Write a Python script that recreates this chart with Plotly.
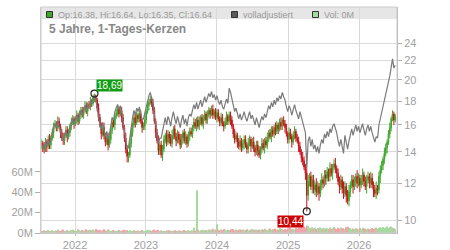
import math
import plotly.graph_objects as go
import pandas as pd

# ---- data (weekly candles) ----
close = [
    14.6, 14.3, 14.2, 14.7, 14.4, 14.9, 14.5, 15.0, 15.4, 15.9,
    16.1, 15.8, 16.3, 15.9, 15.4, 15.0, 14.8, 15.2, 15.6, 15.1,
    15.4, 15.9, 16.2, 16.5, 16.1, 16.4, 16.8, 16.3, 16.9, 17.2,
    16.8, 17.3, 17.6, 17.1, 17.7, 17.5, 18.0, 17.8, 18.3, 18.5,
    18.1, 17.4, 16.6, 16.0, 15.3, 15.8, 15.2, 14.7, 15.1, 14.5,
    14.9, 15.6, 16.2, 16.0, 16.7, 17.0, 17.3, 16.9, 17.2, 16.6,
    15.8, 15.0, 14.2, 13.7, 13.8, 14.6, 15.4, 16.0, 16.6, 16.2,
    16.8, 16.5, 16.9, 16.3, 15.8, 15.9, 16.4, 17.1, 17.6, 17.9,
    18.2, 17.8, 17.2, 16.3, 15.4, 14.8, 14.1, 14.5, 13.8, 14.2,
    14.9, 15.2, 14.7, 15.3, 15.0, 14.6, 15.2, 15.7, 15.1, 14.8,
    15.3, 14.9, 14.5, 15.0, 15.4, 14.8, 15.1, 14.6, 15.2, 15.5,
    15.3, 15.8, 16.2, 15.9, 16.4, 15.9, 16.3, 16.6, 16.1, 16.5,
    16.9, 16.4, 16.8, 17.2, 16.9, 17.3, 16.8, 17.1, 16.6, 17.0,
    16.5, 16.2, 16.6, 16.1, 15.9, 16.3, 16.7, 16.3, 16.8, 16.4,
    15.9, 15.3, 14.9, 15.2, 14.7, 14.4, 14.8, 14.3, 14.6, 14.9,
    14.5, 14.2, 14.6, 14.9, 14.4, 14.7, 14.3, 14.0, 14.5, 14.1,
    13.8, 14.2, 14.6, 14.3, 14.8, 14.5, 15.0, 15.4, 15.1, 15.6,
    15.3, 15.8, 15.5, 16.0, 15.7, 16.2, 15.9, 16.4, 16.1, 15.8,
    15.3, 14.9, 15.4, 15.1, 14.7, 15.2, 15.5, 15.0, 14.8, 14.4,
    14.0, 13.6, 13.4, 13.0, 12.6, 11.3, 12.1, 12.4, 11.8, 12.2,
    11.6, 11.9, 11.5, 11.8, 11.4, 11.9, 12.2, 12.0, 12.5, 12.3,
    12.7, 12.4, 12.9, 12.6, 13.0, 13.2, 12.9, 12.6, 12.1, 11.8,
    12.2, 11.7, 11.4, 11.8, 11.3, 11.0, 11.5, 11.9, 12.2, 11.8,
    12.1, 12.4, 12.0, 12.3, 11.9, 12.2, 12.5, 12.1, 11.8, 12.2,
    12.4, 12.0, 12.3, 11.9, 11.6, 11.4, 11.7, 11.6, 12.4, 12.8,
    13.1, 13.5, 13.9, 14.3, 14.7, 15.3, 15.8, 16.5, 16.9, 16.4,
    16.64,
]

open_ = [
    14.4, 14.6, 14.3, 14.2, 14.7, 14.4, 14.9, 14.5, 15.0, 15.4,
    15.9, 16.1, 15.8, 16.3, 15.9, 15.4, 15.0, 14.8, 15.2, 15.6,
    15.1, 15.4, 15.9, 16.2, 16.5, 16.1, 16.4, 16.8, 16.3, 16.9,
    17.2, 16.8, 17.3, 17.6, 17.1, 17.7, 17.5, 18.0, 17.8, 18.3,
    18.5, 18.1, 17.4, 16.6, 16.0, 15.3, 15.8, 15.2, 14.7, 15.1,
    14.5, 14.9, 15.6, 16.2, 16.0, 16.7, 17.0, 17.3, 16.9, 17.2,
    16.6, 15.8, 15.0, 14.2, 13.7, 13.8, 14.6, 15.4, 16.0, 16.6,
    16.2, 16.8, 16.5, 16.9, 16.3, 15.8, 15.9, 16.4, 17.1, 17.6,
    17.9, 18.2, 17.8, 17.2, 16.3, 15.4, 14.8, 14.1, 14.5, 13.8,
    14.2, 14.9, 15.2, 14.7, 15.3, 15.0, 14.6, 15.2, 15.7, 15.1,
    14.8, 15.3, 14.9, 14.5, 15.0, 15.4, 14.8, 15.1, 14.6, 15.2,
    15.5, 15.3, 15.8, 16.2, 15.9, 16.4, 15.9, 16.3, 16.6, 16.1,
    16.5, 16.9, 16.4, 16.8, 17.2, 16.9, 17.3, 16.8, 17.1, 16.6,
    17.0, 16.5, 16.2, 16.6, 16.1, 15.9, 16.3, 16.7, 16.3, 16.8,
    16.4, 15.9, 15.3, 14.9, 15.2, 14.7, 14.4, 14.8, 14.3, 14.6,
    14.9, 14.5, 14.2, 14.6, 14.9, 14.4, 14.7, 14.3, 14.0, 14.5,
    14.1, 13.8, 14.2, 14.6, 14.3, 14.8, 14.5, 15.0, 15.4, 15.1,
    15.6, 15.3, 15.8, 15.5, 16.0, 15.7, 16.2, 15.9, 16.4, 16.1,
    15.8, 15.3, 14.9, 15.4, 15.1, 14.7, 15.2, 15.5, 15.0, 14.8,
    14.4, 14.0, 13.6, 13.4, 13.0, 12.6, 11.3, 12.1, 12.4, 11.8,
    12.2, 11.6, 11.9, 11.5, 11.8, 11.4, 11.9, 12.2, 12.0, 12.5,
    12.3, 12.7, 12.4, 12.9, 12.6, 13.0, 13.2, 12.9, 12.6, 12.1,
    11.8, 12.2, 11.7, 11.4, 11.8, 11.3, 11.0, 11.5, 11.9, 12.2,
    11.8, 12.1, 12.4, 12.0, 12.3, 11.9, 12.2, 12.5, 12.1, 11.8,
    12.2, 12.4, 12.0, 12.3, 11.9, 11.6, 11.4, 11.7, 11.6, 12.4,
    12.8, 13.1, 13.5, 13.9, 14.3, 14.7, 15.3, 15.8, 16.5, 16.9,
    16.38,
]

high = [
    14.9, 14.8, 14.7, 15.0, 14.9, 15.2, 15.3, 15.2, 15.7, 16.2,
    16.4, 16.3, 16.7, 16.6, 16.1, 15.7, 15.4, 15.4, 15.9, 15.9,
    15.7, 16.1, 16.6, 16.8, 16.7, 16.7, 17.2, 17.0, 17.2, 17.5,
    17.5, 17.5, 18.0, 17.9, 17.9, 18.0, 18.4, 18.2, 18.6, 18.69,
    18.6, 18.3, 17.8, 16.9, 16.2, 16.1, 16.2, 15.4, 15.4, 15.4,
    15.2, 15.8, 16.6, 16.5, 16.9, 17.3, 17.7, 17.5, 17.5, 17.5,
    16.9, 16.0, 15.4, 14.5, 14.0, 14.9, 15.8, 16.2, 16.9, 16.9,
    17.1, 17.0, 17.3, 17.2, 16.5, 16.2, 16.8, 17.3, 17.9, 18.2,
    18.5, 18.4, 18.2, 17.5, 16.5, 15.7, 15.2, 14.7, 14.8, 14.5,
    15.2, 15.4, 15.6, 15.6, 15.5, 15.3, 15.6, 15.9, 16.0, 15.4,
    15.6, 15.5, 15.3, 15.3, 15.6, 15.7, 15.5, 15.3, 15.5, 15.8,
    15.8, 16.0, 16.6, 16.5, 16.6, 16.7, 16.7, 16.8, 16.9, 16.8,
    17.2, 17.1, 17.2, 17.5, 17.4, 17.6, 17.7, 17.3, 17.4, 17.3,
    17.3, 16.7, 17.0, 16.9, 16.3, 16.6, 17.1, 16.9, 17.1, 17.1,
    16.7, 16.1, 15.7, 15.5, 15.4, 15.0, 15.2, 15.0, 14.9, 15.2,
    15.2, 14.7, 15.0, 15.2, 15.1, 15.0, 15.1, 14.5, 14.8, 14.8,
    14.4, 14.4, 15.0, 14.9, 15.0, 15.1, 15.4, 15.6, 15.7, 15.9,
    15.9, 16.0, 16.2, 16.3, 16.2, 16.5, 16.6, 16.6, 16.7, 16.4,
    16.1, 15.5, 15.8, 15.7, 15.3, 15.5, 15.9, 15.7, 15.3, 15.1,
    14.7, 14.2, 14.0, 13.7, 13.2, 12.9, 12.5, 12.6, 12.7, 12.5,
    12.5, 12.1, 12.3, 12.1, 12.0, 12.2, 12.6, 12.4, 12.8, 12.8,
    13.0, 12.9, 13.3, 13.2, 13.2, 13.5, 13.6, 13.1, 12.9, 12.4,
    12.5, 12.4, 12.1, 12.1, 12.0, 11.6, 11.9, 12.1, 12.5, 12.5,
    12.4, 12.6, 12.8, 12.6, 12.5, 12.5, 12.9, 12.7, 12.4, 12.5,
    12.7, 12.6, 12.7, 12.6, 12.1, 11.9, 12.1, 11.9, 12.7, 13.1,
    13.4, 13.7, 14.3, 14.6, 14.9, 15.6, 16.2, 16.7, 17.2, 17.1,
    16.9,
]

low = [
    14.2, 14.0, 13.9, 14.0, 14.0, 14.2, 14.2, 14.2, 14.8, 15.0,
    15.7, 15.5, 15.5, 15.7, 15.0, 14.8, 14.5, 14.5, 15.0, 14.7,
    14.9, 15.1, 15.6, 16.0, 15.7, 15.9, 16.1, 16.0, 16.1, 16.5,
    16.6, 16.5, 17.0, 16.9, 16.7, 17.3, 17.2, 17.5, 17.6, 17.9,
    17.9, 17.1, 16.3, 15.8, 14.9, 15.1, 14.9, 14.4, 14.5, 14.1,
    14.3, 14.6, 15.3, 15.8, 15.6, 16.5, 16.7, 16.6, 16.7, 16.2,
    15.6, 14.7, 13.9, 13.3, 13.3, 13.6, 14.3, 15.1, 15.8, 15.8,
    16.0, 16.2, 16.2, 16.1, 15.4, 15.6, 15.6, 16.1, 16.9, 17.2,
    17.7, 17.5, 16.9, 16.1, 15.0, 14.6, 13.8, 13.8, 13.6, 13.4,
    14.0, 14.6, 14.4, 14.5, 14.6, 14.4, 14.3, 14.9, 14.9, 14.4,
    14.6, 14.6, 14.2, 14.3, 14.6, 14.6, 14.5, 14.3, 14.4, 14.8,
    15.1, 15.0, 15.5, 15.7, 15.5, 15.7, 15.6, 16.0, 15.9, 15.7,
    16.3, 16.1, 16.1, 16.6, 16.5, 16.7, 16.5, 16.5, 16.4, 16.2,
    16.3, 15.9, 15.9, 15.9, 15.5, 15.7, 16.0, 16.0, 16.1, 16.0,
    15.7, 15.0, 14.6, 14.7, 14.3, 14.2, 14.1, 14.0, 14.1, 14.2,
    14.3, 13.9, 13.9, 14.4, 14.0, 14.2, 14.0, 13.7, 13.8, 13.7,
    13.6, 13.5, 13.9, 14.1, 13.9, 14.3, 14.2, 14.7, 14.9, 14.7,
    15.1, 15.0, 15.2, 15.3, 15.3, 15.5, 15.6, 15.6, 15.9, 15.4,
    15.1, 14.6, 14.6, 14.9, 14.3, 14.5, 14.9, 14.7, 14.6, 14.0,
    13.8, 13.3, 13.1, 12.8, 12.2, 10.44, 11.0, 11.8, 11.6, 11.4,
    11.4, 11.3, 11.2, 11.3, 11.0, 11.2, 11.6, 11.7, 11.8, 11.9,
    12.1, 12.1, 12.1, 12.4, 12.2, 12.8, 12.6, 12.3, 11.9, 11.4,
    11.6, 11.4, 11.1, 11.2, 10.9, 10.8, 10.7, 11.2, 11.7, 11.4,
    11.6, 11.8, 11.7, 11.8, 11.5, 11.7, 11.9, 11.8, 11.6, 11.4,
    12.0, 11.7, 11.7, 11.7, 11.2, 11.2, 11.1, 11.3, 11.4, 12.0,
    12.6, 12.8, 13.2, 13.7, 13.9, 14.5, 15.0, 15.5, 16.3, 16.0,
    16.2,
]

adjusted = [
    14.6, 14.3, 14.2, 14.7, 14.4, 14.9, 14.5, 15.0, 15.4, 15.9,
    16.1, 15.8, 16.3, 15.9, 15.4, 15.0, 14.8, 15.2, 15.6, 15.1,
    15.4, 15.9, 16.2, 16.5, 16.1, 16.4, 16.8, 16.3, 16.9, 17.2,
    16.8, 17.3, 17.6, 17.1, 17.7, 17.5, 18.0, 17.8, 18.3, 18.5,
    18.1, 17.4, 16.6, 16.0, 15.7, 16.2, 15.6, 15.1, 15.5, 14.9,
    15.3, 16.0, 16.6, 16.4, 17.1, 17.4, 17.7, 17.3, 17.6, 17.0,
    16.4, 15.5, 14.7, 14.2, 14.3, 15.1, 15.9, 16.6, 17.2, 16.8,
    17.4, 17.1, 17.5, 16.9, 16.4, 16.5, 17.0, 17.7, 18.2, 18.5,
    18.8, 18.4, 17.8, 16.9, 15.9, 15.3, 14.6, 15.0, 15.0, 15.5,
    16.2, 16.6, 16.0, 16.7, 16.4, 15.9, 16.6, 17.1, 16.5, 16.1,
    16.7, 16.2, 15.8, 16.4, 16.8, 16.1, 16.5, 15.9, 16.6, 16.9,
    16.7, 17.2, 17.7, 17.3, 17.9, 17.3, 17.8, 18.1, 17.5, 18.0,
    18.4, 17.9, 18.3, 18.7, 18.4, 18.9, 18.3, 18.6, 18.1, 18.5,
    18.0, 17.7, 18.1, 17.5, 17.3, 17.8, 18.2, 17.8, 19.2, 18.8,
    18.2, 17.5, 17.1, 17.4, 16.8, 16.5, 16.9, 16.4, 16.7, 17.1,
    16.6, 16.3, 16.7, 17.1, 16.5, 16.8, 16.4, 16.0, 16.6, 16.1,
    15.8, 16.3, 16.7, 16.4, 16.9, 16.6, 17.2, 17.6, 17.3, 17.9,
    17.5, 18.1, 17.7, 18.3, 18.0, 18.5, 18.2, 18.8, 18.4, 18.1,
    17.5, 17.1, 17.6, 17.3, 16.8, 17.4, 17.7, 17.2, 16.9, 16.5,
    17.1, 16.6, 16.3, 15.9, 15.4, 12.9, 14.8, 15.1, 14.4, 14.9,
    14.2, 14.5, 14.0, 14.4, 13.9, 14.5, 14.9, 14.6, 15.3, 15.0,
    15.5, 15.1, 15.7, 15.4, 15.9, 16.1, 15.7, 15.4, 14.8, 14.4,
    14.9, 14.3, 13.9, 15.2, 14.6, 14.2, 14.8, 15.4, 15.7, 15.2,
    15.6, 16.0, 15.5, 15.9, 15.4, 15.7, 16.1, 15.6, 15.2, 15.7,
    16.0, 15.5, 15.9, 15.4, 15.0, 14.7, 15.1, 15.0, 16.0, 16.5,
    16.9, 17.4, 17.9, 18.4, 19.0, 19.7, 20.4, 21.3, 22.2, 21.2,
    21.5,
]

volume_m = [
    2.1, 1.8, 2.6, 1.5, 2.2, 3.0, 1.9, 2.4, 2.8, 2.0,
    1.7, 2.5, 3.1, 2.2, 1.9, 2.7, 3.4, 2.1, 1.8, 2.6,
    2.3, 1.6, 2.9, 3.3, 2.0, 2.4, 1.8, 3.6, 2.7, 2.2,
    3.0, 2.5, 1.9, 3.8, 2.6, 2.1, 3.2, 2.8, 3.5, 2.4,
    3.9, 3.1, 2.7, 3.3, 2.2, 2.9, 3.6, 2.5, 2.0, 3.4,
    2.6, 2.1, 1.8, 2.9, 2.3, 1.7, 2.5, 3.0, 2.2, 1.9,
    2.8, 3.3, 2.4, 3.0, 2.1, 2.6, 1.9, 2.3, 2.7, 2.0,
    1.8, 2.4, 1.6, 2.2, 2.9, 2.0, 1.7, 2.5, 3.1, 2.3,
    2.6, 1.9, 2.8, 3.4, 2.2, 2.7, 3.1, 2.0, 2.5, 1.8,
    2.2, 1.7, 2.4, 1.9, 2.6, 2.1, 1.6, 2.3, 2.8, 2.0,
    1.9, 2.5, 2.2, 1.7, 2.4, 2.9, 2.1, 1.8, 2.6, 2.3,
    2.0, 2.7, 5.2, 2.4, 42.0, 3.1, 2.2, 2.8, 2.5, 3.3,
    2.6, 3.0, 2.4, 3.5, 2.8, 3.2, 4.1, 2.7, 3.6, 8.5,
    3.1, 2.8, 3.4, 2.6, 3.9, 3.0, 2.5, 3.3, 2.9, 3.7,
    3.2, 4.0, 2.8, 3.5, 2.6, 3.1, 3.8, 2.9, 3.4, 2.7,
    3.0, 3.6, 2.5, 3.2, 2.8, 3.9, 3.3, 2.6, 3.5, 3.0,
    3.4, 2.9, 3.7, 3.1, 4.2, 3.3, 2.8, 3.6, 4.5, 3.2,
    3.8, 3.0, 4.3, 3.5, 2.9, 4.6, 3.4, 3.9, 3.1, 4.0,
    3.3, 4.4, 3.6, 5.0, 3.8, 4.2, 3.5, 4.8, 4.1, 5.3,
    4.6, 5.8, 4.9, 6.2, 5.5, 7.4, 6.8, 5.1, 4.7, 5.6,
    4.3, 5.2, 4.0, 4.8, 3.9, 5.5, 4.4, 3.8, 5.0, 4.2,
    4.6, 3.9, 5.3, 4.1, 4.8, 6.0, 4.5, 3.7, 5.1, 4.3,
    5.4, 4.0, 4.7, 3.8, 5.6, 6.1, 4.2, 4.9, 3.6, 4.4,
    3.9, 4.6, 4.1, 3.5, 4.8, 4.0, 5.2, 3.7, 4.3, 3.8,
    4.5, 3.6, 4.2, 5.0, 3.9, 4.7, 5.5, 4.1, 4.9, 5.7,
    5.2, 6.0, 4.8, 5.5, 6.3, 5.0, 5.8, 6.4, 5.3, 4.6,
    3.8,
]

dates = pd.date_range("2021-07-12", periods=len(close), freq="7D")

year_ticks = ["2022-01-01", "2023-01-01", "2024-01-01", "2025-01-01", "2026-01-01"]
year_labels = ["2022", "2023", "2024", "2025", "2026"]
price_ticks = [10, 12, 14, 16, 18, 20, 22, 24]
vol_ticks = [0, 20, 40, 60]
vol_labels = ["0M", "20M", "40M", "60M"]

hi_idx, hi_val, hi_text = 39, 18.69, "18,69"
lo_idx, lo_val, lo_text = 195, 10.44, "10,44"

title_text = "5 Jahre, 1-Tages-Kerzen"
legend_ohlc = "Op:16.38, Hi:16.64, Lo:16.35, Cl:16.64"
legend_adj = "volladjustiert"
legend_vol = "Vol: 0M"

# ---- styling ----
GREEN = "#3fa62b"
RED = "#c8121a"
VOL_GREEN = "#a6dba0"
VOL_RED = "#f2a3ab"
GRID = "#dadada"
TXT = "#a0a0a0"
FONT = "Liberation Sans, Arial, sans-serif"

W, H = 450, 250
ML, MR, MT, MB = 41, 53, 7, 17
PW, PH = W - ML - MR, H - MT - MB


def px_x(p):
    return (p - ML) / PW


def px_y(p):
    return (H - MB - p) / PH


vol_colors = [VOL_GREEN if c >= o else VOL_RED for o, c in zip(open_, close)]

fig = go.Figure()

fig.add_trace(go.Bar(
    x=dates, y=volume_m, marker=dict(color=vol_colors, line=dict(width=0)),
    yaxis="y", xaxis="x", showlegend=False, hoverinfo="skip",
))

fig.add_trace(go.Scatter(
    x=dates, y=adjusted, mode="lines", line=dict(color="#7a7a7a", width=1.2),
    yaxis="y2", showlegend=False,
))

fig.add_trace(go.Candlestick(
    x=dates, open=open_, high=high, low=low, close=close,
    increasing=dict(line=dict(color=GREEN, width=1), fillcolor=GREEN),
    decreasing=dict(line=dict(color=RED, width=1), fillcolor=RED),
    whiskerwidth=0, yaxis="y2", showlegend=False,
))

fig.add_trace(go.Scatter(
    x=[dates[hi_idx], dates[lo_idx]], y=[hi_val, lo_val], mode="markers",
    marker=dict(symbol="circle-open", size=7, color="#222", line=dict(width=1.2)),
    yaxis="y2", showlegend=False,
))

fig.update_layout(
    width=W, height=H,
    margin=dict(l=ML, r=MR, t=MT, b=MB, pad=0, autoexpand=False),
    paper_bgcolor="white", plot_bgcolor="white",
    font=dict(family=FONT, size=11, color=TXT),
    bargap=0.2,
    xaxis=dict(
        type="date", range=["2021-07-10", "2026-07-15"],
        tickvals=year_ticks, ticktext=year_labels,
        showgrid=True, gridcolor=GRID, gridwidth=1,
        showline=True, linecolor="#c0c0c0", linewidth=1,
        ticks="outside", ticklen=2, tickcolor="#c0c0c0",
        rangeslider=dict(visible=False), zeroline=False, automargin=False,
        tickfont=dict(size=11, color=TXT),
    ),
    yaxis=dict(
        side="left", range=[0, 222], tickvals=vol_ticks, ticktext=vol_labels,
        showgrid=False, zeroline=False, showline=True, linecolor="#d0d0d0",
        ticks="outside", ticklen=5, tickcolor="#b0b0b0", automargin=False,
        tickfont=dict(size=11, color=TXT),
    ),
    yaxis2=dict(
        type="log", side="right", overlaying="y",
        range=[0.9721, 1.4576], tickvals=price_ticks,
        ticktext=[str(v) for v in price_ticks],
        showgrid=True, gridcolor=GRID, gridwidth=1, zeroline=False,
        showline=True, linecolor="#b0b0b0", linewidth=1,
        ticks="outside", ticklen=4, tickcolor="#b0b0b0", automargin=False,
        tickfont=dict(size=11, color=TXT),
    ),
)

shapes = [
    # header band
    dict(type="rect", xref="paper", yref="paper", x0=0, x1=1, y0=px_y(19), y1=1,
         fillcolor="#e6e6e6", line=dict(width=0), layer="below"),
    # frame
    dict(type="rect", xref="paper", yref="paper", x0=0, x1=1, y0=0, y1=1,
         line=dict(color="#cccccc", width=1), fillcolor="rgba(0,0,0,0)", layer="above"),
    # legend squares
    dict(type="rect", xref="paper", yref="paper", x0=px_x(46.5), x1=px_x(52.5),
         y0=px_y(17.5), y1=px_y(11.5), fillcolor=GREEN, line=dict(color="#333", width=1)),
    dict(type="rect", xref="paper", yref="paper", x0=px_x(231.5), x1=px_x(237.5),
         y0=px_y(17.5), y1=px_y(11.5), fillcolor="#5a5a5a", line=dict(color="#333", width=1)),
    dict(type="rect", xref="paper", yref="paper", x0=px_x(312.5), x1=px_x(318.5),
         y0=px_y(17.5), y1=px_y(11.5), fillcolor=VOL_GREEN, line=dict(color="#333", width=1)),
]
fig.update_layout(shapes=shapes)

annotations = [
    dict(text=legend_ohlc, xref="paper", yref="paper", x=px_x(55.5), y=px_y(14.5),
         xanchor="left", yanchor="middle", showarrow=False,
         font=dict(size=9, color="#9a9a9a", family=FONT)),
    dict(text=legend_adj, xref="paper", yref="paper", x=px_x(241), y=px_y(14.5),
         xanchor="left", yanchor="middle", showarrow=False,
         font=dict(size=9, color="#9a9a9a", family=FONT)),
    dict(text=legend_vol, xref="paper", yref="paper", x=px_x(321.5), y=px_y(14.5),
         xanchor="left", yanchor="middle", showarrow=False,
         font=dict(size=9, color="#9a9a9a", family=FONT)),
    dict(text="<b>" + title_text + "</b>", xref="paper", yref="paper", x=px_x(46.5),
         y=px_y(29.5), xanchor="left", yanchor="middle", showarrow=False,
         font=dict(size=12, color="#888888", family=FONT)),
    dict(text=hi_text, x=dates[hi_idx], y=math.log10(hi_val), xref="x", yref="y2",
         xanchor="left", yanchor="bottom", xshift=2, yshift=2, showarrow=False,
         bgcolor="#129c12", borderpad=0,
         font=dict(size=10, color="white", family=FONT)),
    dict(text=lo_text, x=dates[lo_idx], y=math.log10(lo_val), xref="x", yref="y2",
         xanchor="right", yanchor="top", xshift=-3, yshift=-4, showarrow=False,
         bgcolor="#cc0000", borderpad=0,
         font=dict(size=10, color="white", family=FONT)),
]
fig.update_layout(annotations=annotations)

fig.write_html("out.html")
